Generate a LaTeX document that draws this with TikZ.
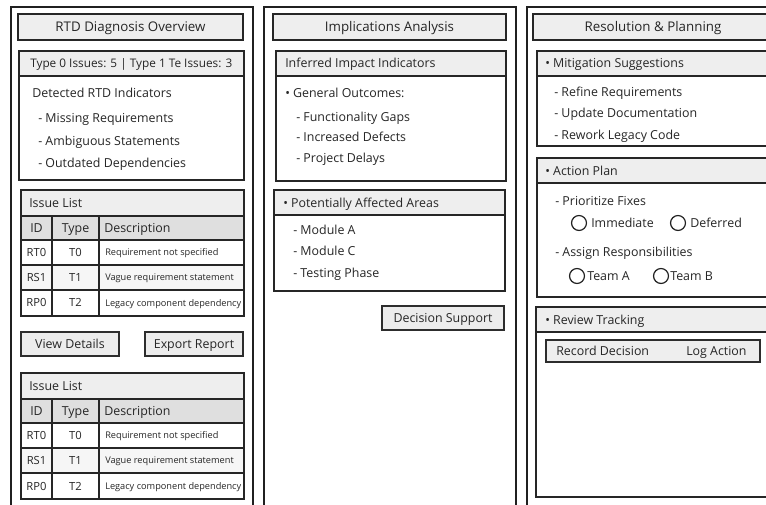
\documentclass[tikz,border=0pt]{standalone}
\usepackage{fontspec}
\setmainfont{Open Sans}
\begin{document}
\begin{tikzpicture}[x=0.75pt,y=-0.75pt,
  panel/.style={draw=gray!25!black, line width=1.4pt, fill=white},
  box/.style={draw=gray!30!black, line width=1.0pt},
  hdrfill/.style={fill=gray!13},
  btn/.style={draw=gray!35!black, line width=1.2pt, fill=gray!15},
  ttl/.style={font=\fontsize{10}{12}\selectfont, inner sep=0pt, text=black!85, text height=9.3pt, text depth=2.2pt},
  txt/.style={font=\fontsize{9.3}{11}\selectfont, inner sep=0pt, anchor=west, text=black!85, text height=8.7pt, text depth=2pt},
  ctxt/.style={font=\fontsize{9.3}{11}\selectfont, inner sep=0pt, text=black!85, text height=8.7pt, text depth=2pt},
  rtxt/.style={font=\fontsize{8.4}{10}\selectfont, inner sep=0pt, text=black!85, text height=7.9pt, text depth=1.9pt},
  stxt/.style={font=\fontsize{6.9}{9}\selectfont, inner sep=0pt, anchor=west, text=black!85, text height=6.5pt, text depth=1.6pt},
  radio/.style={circle, draw=gray!25!black, line width=0.9pt, minimum size=11.2pt, inner sep=0pt}
]
\useasboundingbox (0,0) rectangle (766,505);
\clip (0,0) rectangle (766,505);
\fill[white] (0,0) rectangle (766,505);

% outer panels
\draw[panel] (11,7) rectangle (253,520);
\draw[panel] (264,7) rectangle (516,520);
\draw[panel] (527,7) rectangle (785,520);

% title boxes
\draw[box, hdrfill] (18,14) rectangle (243,40);
\node[ttl] (t1) at (130.5,27) {RTD Diagnosis Overview};
\draw[box, hdrfill] (273,14) rectangle (506,40);
\node[ttl] (t2) at (389.5,27) {Implications Analysis};
\draw[box, hdrfill] (533,14) rectangle (773,40);
\node[ttl] (t3) at (653,27) {Resolution \& Planning};

% ---------- column 1 ----------
\draw[hdrfill] (19,51) rectangle (244,76);
\draw[box] (19,51) rectangle (244,180);
\draw[box] (19,76) -- (244,76);
\node[txt, font=\fontsize{8.85}{11}\selectfont] (c1h) at (30,63.5) {Type 0 Issues: 5 | Type 1 Te Issues: 3};
\node[txt] (c1a) at (32,93) {Detected RTD Indicators};
\node[txt] (c1b) at (38,118) {- Missing Requirements};
\node[txt] (c1c) at (38,141) {- Ambiguous Statements};
\node[txt] (c1d) at (38,163) {- Outdated Dependencies};

% two issue tables
\foreach \yo/\nm in {0/a,183/b} {
  \begin{scope}[yshift=-\yo*0.75pt]
    \fill[gray!13] (21,190) rectangle (244,216);
    \fill[gray!25] (21,216) rectangle (244,240);
    \fill[gray!7] (21,265) rectangle (244,290);
    \draw[box] (21,190) rectangle (244,316);
    \foreach \yy in {216,240,265,290} \draw[box] (21,\yy) -- (244,\yy);
    \draw[box] (52,216) -- (52,316);
    \draw[box] (99,216) -- (99,316);
    \node[txt] (il\nm) at (29,203) {Issue List};
    \node[ctxt] (hid\nm) at (36.5,228) {ID};
    \node[ctxt] (hty\nm) at (75.5,228) {Type};
    \node[txt] (hde\nm) at (104,228) {Description};
    \node[rtxt] (r1a\nm) at (36.5,252.5) {RT0};
    \node[rtxt] (r1b\nm) at (75.5,252.5) {T0};
    \node[stxt] (r1c\nm) at (105,252.5) {Requirement not specified};
    \node[rtxt] (r2a\nm) at (36.5,277.5) {RS1};
    \node[rtxt] (r2b\nm) at (75.5,277.5) {T1};
    \node[stxt] (r2c\nm) at (105,277.5) {Vague requirement statement};
    \node[rtxt] (r3a\nm) at (36.5,303) {RP0};
    \node[rtxt] (r3b\nm) at (75.5,303) {T2};
    \node[stxt] (r3c\nm) at (105,303) {Legacy component dependency};
  \end{scope}
}

% buttons
\draw[btn] (21,332) rectangle (119,356);
\node[ctxt] (b1) at (70,344) {View Details};
\draw[btn] (145,332) rectangle (243,356);
\node[ctxt] (b2) at (194,344) {Export Report};

% ---------- column 2 ----------
\draw[hdrfill] (276,51) rectangle (506,76);
\draw[box] (276,51) rectangle (506,181);
\draw[box] (276,76) -- (506,76);
\node[txt] (c2h) at (285,63.5) {Inferred Impact Indicators};
\node[txt] (c2a) at (285,93) {\textbullet\ General Outcomes:};
\node[txt] (c2b) at (296,117) {- Functionality Gaps};
\node[txt] (c2c) at (296,137) {- Increased Defects};
\node[txt] (c2d) at (296,158) {- Project Delays};

\draw[hdrfill] (274,190) rectangle (505,215);
\draw[box] (274,190) rectangle (505,291);
\draw[box] (274,215) -- (505,215);
\node[txt] (c2e) at (283,203) {\textbullet\ Potentially Affected Areas};
\node[txt] (c2f) at (293,230) {- Module A};
\node[txt] (c2g) at (293,251) {- Module C};
\node[txt] (c2i) at (293,273) {- Testing Phase};

\draw[btn] (382,306) rectangle (504,330);
\node[ctxt] (b3) at (443,318) {Decision Support};

% ---------- column 3 ----------
\draw[hdrfill] (537,51) rectangle (780,76);
\draw[box] (537,51) rectangle (780,146);
\draw[box] (537,76) -- (780,76);
\node[txt] (c3h) at (545,63.5) {\textbullet\ Mitigation Suggestions};
\node[txt] (c3a) at (554,92) {- Refine Requirements};
\node[txt] (c3b) at (554,113) {- Update Documentation};
\node[txt] (c3c) at (554,135) {- Rework Legacy Code};

\draw[hdrfill] (537,158) rectangle (780,183);
\draw[box] (537,158) rectangle (780,297);
\draw[box] (537,183) -- (780,183);
\node[txt] (c3d) at (545,171) {\textbullet\ Action Plan};
\node[txt] (c3e) at (555,201) {- Prioritize Fixes};
\node[radio] (ra1) at (579,223) {};
\node[txt] (c3f) at (591,223) {Immediate};
\node[radio] (ra2) at (678,223) {};
\node[txt] (c3g) at (690,223) {Deferred};
\node[txt] (c3i) at (555,252) {- Assign Responsibilities};
\node[radio] (ra3) at (577,276) {};
\node[txt] (c3j) at (587,276) {Team A};
\node[radio] (ra4) at (661,276) {};
\node[txt] (c3k) at (670,276) {Team B};

\draw[hdrfill] (536,307) rectangle (780,332);
\draw[box] (536,307) rectangle (780,497);
\draw[box] (536,332) -- (780,332);
\node[txt] (c3l) at (545,320) {\textbullet\ Review Tracking};
\draw[btn, line width=1.0pt, fill=gray!13] (546,340) rectangle (760,362);
\node[txt] (c3m) at (556,351) {Record Decision};
\node[txt] (c3n) at (686,351) {Log Action};
\end{tikzpicture}
\end{document}
